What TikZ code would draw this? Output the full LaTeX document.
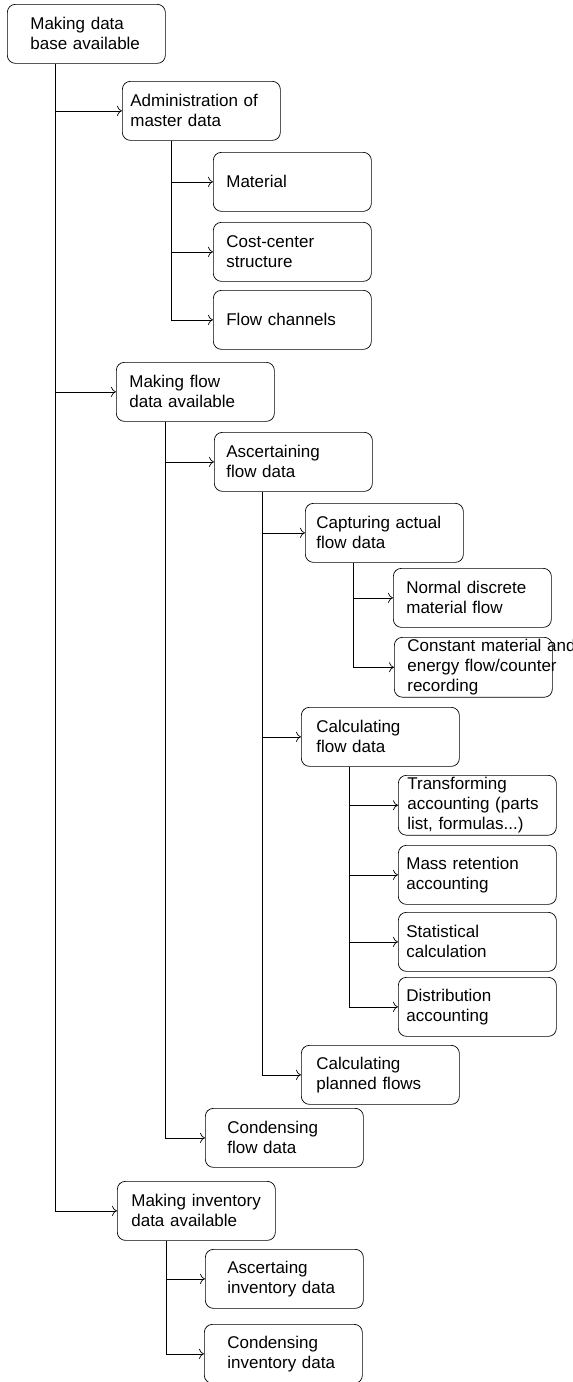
\documentclass[tikz,border=0pt]{standalone}
\usepackage{fontspec}
\setmainfont{Liberation Sans}
\usetikzlibrary{arrows.meta}
\tikzset{
  box/.style={draw, rounded corners=8pt, anchor=north west, align=left,
    minimum height=59pt, inner ysep=2pt, inner xsep=#1pt,
    text width=\the\numexpr158-2*#1\relax pt},
  box/.default=12
}
\begin{document}
\begin{tikzpicture}[x=1pt,y=-1pt,line width=0.7pt,>={To[length=5pt,width=10pt]},
                    font=\fontsize{17}{20}\selectfont]
             \useasboundingbox (0,0) rectangle (573,1382);
             \node[box=23] (base) at (7,4) {Making data\\base available};
             \node[box=8] (admin) at (122,81) {Administration of\\master data};
             \node[box=13] (mat) at (213,152) {Material};
             \node[box=13] (cost) at (213,222) {Cost-center\\structure};
             \node[box=13] (chan) at (213,290) {Flow channels};
             \node[box=13] (flow) at (116,362) {Making flow\\data available};
             \node[box=12] (asc) at (214,432) {Ascertaining\\flow data};
             \node[box=11] (cap) at (305,503) {Capturing actual\\flow data};
             \node[box=13] (norm) at (393,568) {Normal discrete\\material flow};
             \node[box=13] (const) at (394,637) {\mbox{Constant material and}\\\mbox{energy flow/counter}\\recording};
             \node[box=15] (calc) at (301,707) {Calculating\\flow data};
             \node[box=9] (trans) at (398,775) {Transforming\\accounting (parts\\list, formulas...)};
             \node[box=8] (mass) at (398,845) {Mass retention\\accounting};
             \node[box=8] (stat) at (398,912) {Statistical\\calculation};
             \node[box=8] (dist) at (398,977) {Distribution\\accounting};
             \node[box=15] (plan) at (301,1045) {Calculating\\planned flows};
             \node[box=22] (cond) at (205,1108) {Condensing\\flow data};
             \node[box=14] (inv) at (117,1181) {Making inventory\\data available};
             \node[box=22] (ascinv) at (205,1249) {Ascertaing\\inventory data};
             \node[box=23] (condinv) at (204,1324) {Condensing\\inventory data};
             \draw[->] ([xshift=48pt]base.south west) |- (admin.west);
             \draw[->] ([xshift=48pt]base.south west) |- (flow.west);
             \draw[->] ([xshift=48pt]base.south west) |- (inv.west);
             \draw[->] ([xshift=49pt]admin.south west) |- (mat.west);
             \draw[->] ([xshift=49pt]admin.south west) |- (cost.west);
             \draw[->] ([xshift=49pt]admin.south west) |- (chan.west);
             \draw[->] ([xshift=49pt]flow.south west) |- (asc.west);
             \draw[->] ([xshift=49pt]flow.south west) |- (cond.west);
             \draw[->] ([xshift=48pt]asc.south west) |- (cap.west);
             \draw[->] ([xshift=48pt]asc.south west) |- (calc.west);
             \draw[->] ([xshift=48pt]asc.south west) |- (plan.west);
             \draw[->] ([xshift=48pt]cap.south west) |- (norm.west);
             \draw[->] ([xshift=48pt]cap.south west) |- (const.west);
             \draw[->] ([xshift=48pt]calc.south west) |- (trans.west);
             \draw[->] ([xshift=48pt]calc.south west) |- (mass.west);
             \draw[->] ([xshift=48pt]calc.south west) |- (stat.west);
             \draw[->] ([xshift=48pt]calc.south west) |- (dist.west);
             \draw[->] ([xshift=49pt]inv.south west) |- (ascinv.west);
             \draw[->] ([xshift=49pt]inv.south west) |- (condinv.west);
            \end{tikzpicture}
\end{document}
